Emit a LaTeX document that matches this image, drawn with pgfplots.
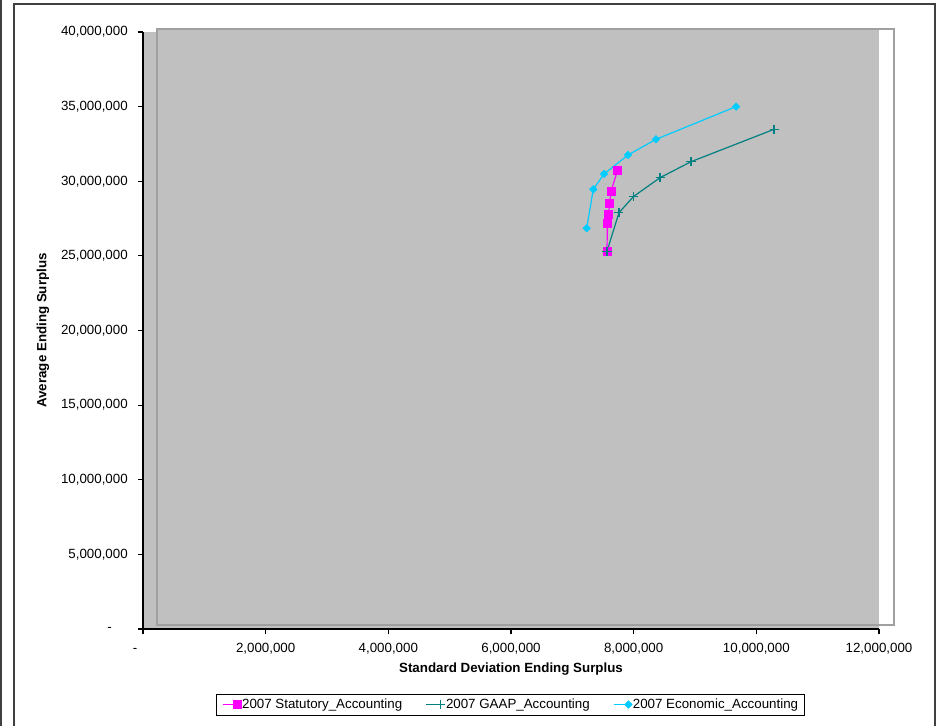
\documentclass[border=0pt]{standalone}
\usepackage{pgfplots}
\pgfplotsset{compat=1.18}
\usepackage{fontspec}
\setmainfont{Liberation Sans}
\usetikzlibrary{plotmarks}

\definecolor{plotgray}{HTML}{C0C0C0}
\definecolor{bordergray}{HTML}{A0A0A0}
\definecolor{framegray}{HTML}{404040}
\definecolor{statmag}{HTML}{FF00FF}
\definecolor{gaapteal}{HTML}{008080}
\definecolor{econcyan}{HTML}{00CCFF}

\begin{document}
\begin{tikzpicture}[x=1pt,y=1pt]
\path[use as bounding box] (0,0) rectangle (708,543.75);
% chart frame
\draw[framegray, line width=1.5pt] (0.75,-5) -- (0.75,550);
\draw[framegray, line width=1.5pt] (10.125,-5) -- (10.125,540.75) -- (700.875,540.75) -- (700.875,-5);
% plot area background and its offset border
\fill[plotgray] (107.25,72) rectangle (659.25,519.75);
\fill[plotgray] (117.75,519.75) rectangle (659.25,522);
\draw[bordergray, line width=1.1pt] (117.75,75) rectangle (670.5,522);

\begin{axis}[
  at={(107.25pt,72pt)}, anchor=south west,
  scale only axis, width=552pt, height=447.75pt,
  xmin=0, xmax=12000000, ymin=0, ymax=40000000,
  axis lines*=left,
  axis line style={black, line width=0.8pt},
  tick style={black, line width=0.8pt},
  tick align=outside, major tick length=3.75pt,
  xtick={0,2000000,4000000,6000000,8000000,10000000,12000000},
  xticklabels={{-\hspace*{12pt}},{2,000,000},{4,000,000},{6,000,000},{8,000,000},{10,000,000},{12,000,000}},
  ytick={0,5000000,10000000,15000000,20000000,25000000,30000000,35000000,40000000},
  yticklabels={{-\hspace*{12pt}},{5,000,000},{10,000,000},{15,000,000},{20,000,000},{25,000,000},{30,000,000},{35,000,000},{40,000,000}},
  scaled ticks=false,
  tick label style={font=\fontsize{10pt}{12pt}\selectfont},
  xticklabel style={anchor=base, inner sep=0pt, yshift=-14pt},
  yticklabel style={anchor=east, inner sep=0pt, xshift=-7.5pt},
  xlabel={\textbf{Standard Deviation Ending Surplus}},
  ylabel={\textbf{Average Ending Surplus}},
  label style={font=\fontsize{10pt}{12pt}\selectfont},
  every axis x label/.style={at={(axis description cs:0.5,-0.067)}, anchor=center},
  every axis y label/.style={at={(axis description cs:-0.1359,0.5)}, anchor=center, rotate=90},
  legend columns=3,
  legend style={
    at={(axis description cs:0.4993,-0.1265)}, anchor=center,
    draw=black, line width=0.6pt, fill=white,
    font=\fontsize{10pt}{12pt}\selectfont,
    inner xsep=4pt, inner ysep=2pt,
    nodes={inner xsep=0.5pt, inner ysep=1.5pt},
    /tikz/every even column/.append style={column sep=17pt},
  },
  legend image code/.code={
    \draw[#1] (0pt,0pt) -- (13pt,0pt);
    \draw[#1] plot[only marks] coordinates {(11pt,0pt)};
  },
]

\addplot[statmag, line width=0.9pt, mark=square*, mark size=3pt,
  mark options={solid, fill=statmag, draw=statmag, line width=0.4pt}]
  coordinates {
    (7565000,25300000) (7571000,27180000) (7588000,27780000)
    (7610000,28540000) (7630000,29300000) (7734000,30710000)
  };
\addlegendentry{2007 Statutory\_Accounting}

\addplot[gaapteal, line width=0.9pt, mark=+, mark size=3.4pt,
  mark options={solid, line width=0.9pt}]
  coordinates {
    (7565000,25300000) (7760000,27890000) (7995000,28970000)
    (8430000,30240000) (8935000,31310000) (10289000,33480000)
  };
\addlegendentry{2007 GAAP\_Accounting}

\addplot[econcyan, line width=0.9pt, mark=square*, mark size=2pt,
  mark options={solid, rotate=45, fill=econcyan, draw=econcyan, line width=0.4pt}]
  coordinates {
    (7234000,26850000) (7342000,29460000) (7517000,30490000)
    (7908000,31760000) (8364000,32810000) (9669000,35000000)
  };
\addlegendentry{2007 Economic\_Accounting}

\end{axis}
\end{tikzpicture}
\end{document}
